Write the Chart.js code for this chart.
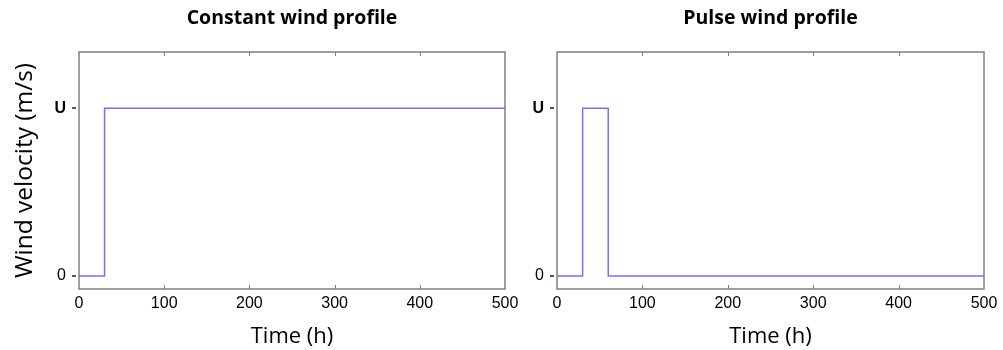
<!DOCTYPE html>
<html><head><meta charset="utf-8">
<script src="https://cdn.jsdelivr.net/npm/chart.js@4.4.1/dist/chart.umd.min.js"></script>
<style>
html,body{margin:0;padding:0;background:#fff;}
#wrap{position:relative;width:1003px;height:350px;}
#c1{position:absolute;left:0;top:0;}
#c2{position:absolute;left:530px;top:0;}
</style></head><body>
<div id="wrap"><canvas id="c1" width="530" height="350"></canvas><canvas id="c2" width="473" height="350"></canvas></div>
<script>
// Data
const constantTimes = [0, 30, 500];
const constantValues = [0, 1, 1];
const pulseTimes = [0, 30, 60, 500];
const pulseValues = [0, 1, 0, 0];
const xTickValues = [0, 100, 200, 300, 400, 500];
const yTickValues = [0, 1];
const yTickLabels = ['0', 'U'];
const titles = ['Constant wind profile', 'Pulse wind profile'];

const AXIS = '#7f7f7f';
const LINE = '#7272ff';

const framePlugin = {
  id: 'frame',
  afterDraw(chart) {
    const {ctx, chartArea: a, scales: {x, y}} = chart;
    ctx.save();
    ctx.strokeStyle = AXIS;
    ctx.lineWidth = 1.5;
    ctx.strokeRect(a.left, a.top, a.right - a.left, a.bottom - a.top);
    ctx.lineWidth = 1;
    ctx.beginPath();
    xTickValues.forEach(v => {
      if (v <= x.min || v >= x.max) return;
      const px = Math.round(x.getPixelForValue(v)) + 0.5;
      ctx.moveTo(px, a.bottom); ctx.lineTo(px, a.bottom - 4);
      ctx.moveTo(px, a.top); ctx.lineTo(px, a.top + 4);
    });
    ctx.stroke();
    ctx.strokeStyle = '#222';
    ctx.lineWidth = 1.5;
    ctx.beginPath();
    yTickValues.forEach(v => {
      const py = Math.round(y.getPixelForValue(v));
      ctx.moveTo(a.left - 7, py); ctx.lineTo(a.left - 3, py);
    });
    ctx.stroke();
    ctx.restore();
  }
};

function makeChart(id, title, times, values, showYTitle, yWidth, padRight) {
  const data = times.map((t, i) => ({x: t, y: values[i]}));
  return new Chart(document.getElementById(id), {
    type: 'line',
    data: {datasets: [{data, stepped: 'before', borderColor: LINE, borderWidth: 1.5, pointRadius: 0, fill: false}]},
    options: {
      responsive: false, animation: false,
      layout: {padding: {left: 0, right: padRight, top: 0, bottom: 0}},
      plugins: {
        legend: {display: false}, tooltip: {enabled: false},
        title: {display: true, text: title, color: '#000', fullSize: false,
          font: {family: 'Open Sans', size: 19.5, weight: 'bold', lineHeight: 1.2},
          padding: {top: 6.8, bottom: 21.8}}
      },
      scales: {
        x: {type: 'linear', min: 0, max: 500,
          afterFit: s => { s.height = 61; },
          afterBuildTicks: s => { s.ticks = xTickValues.map(v => ({value: v})); },
          grid: {display: false, drawTicks: false}, border: {display: false},
          ticks: {padding: 5, color: '#000', font: {family: 'Liberation Sans', size: 16}, maxRotation: 0},
          title: {display: true, text: 'Time (h)', color: '#000', font: {family: 'Open Sans', size: 22}, padding: {top: 4, bottom: 0}}
        },
        y: {type: 'linear', min: -0.078, max: 1.335,
          afterFit: s => { s.width = yWidth; },
          afterBuildTicks: s => { s.ticks = yTickValues.map(v => ({value: v})); },
          grid: {display: false, drawTicks: false}, border: {display: false},
          ticks: {padding: 13, color: '#000',
            callback: v => yTickLabels[yTickValues.indexOf(v)],
            font: c => ({family: 'Liberation Sans', size: 16, weight: c.tick && c.tick.value === 1 ? 'bold' : 'normal'})},
          title: {display: showYTitle, text: 'Wind velocity (m/s)', color: '#000', font: {family: 'Open Sans', size: 24.5}, padding: {top: 10.5, bottom: 0}}
        }
      }
    },
    plugins: [framePlugin]
  });
}

makeChart('c1', titles[0], constantTimes, constantValues, true, 79, 25);
makeChart('c2', titles[1], pulseTimes, pulseValues, false, 27, 19);
</script>
</body></html>
